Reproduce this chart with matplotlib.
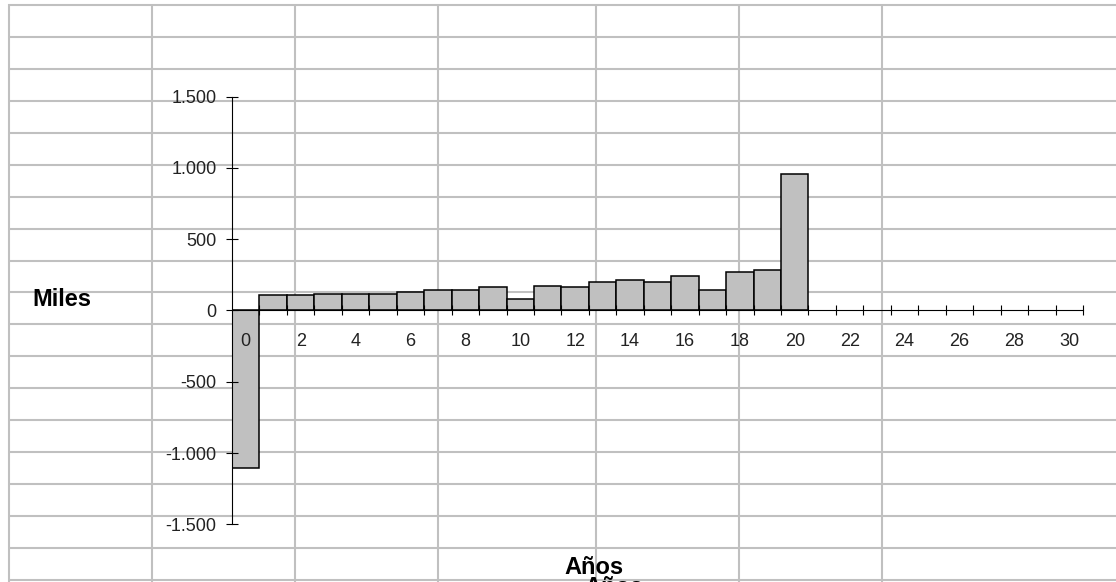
import matplotlib
matplotlib.use("Agg")
import matplotlib.pyplot as plt
import numpy as np

# Flujo de caja anual (miles)
anios = list(range(31))
flujo_miles = [-1105, 108, 108, 119, 119, 119, 133, 147, 147, 164, 80,
               175, 164, 201, 213, 201, 241, 147, 267, 281, 955]
etiquetas_x = [str(a) for a in range(0, 31, 2)]
valores_y = [-1500, -1000, -500, 0, 500, 1000, 1500]
etiquetas_y = ["-1.500", "-1.000", "-500", "0", "500", "1.000", "1.500"]

plt.rcParams["font.family"] = ["Liberation Sans", "DejaVu Sans"]

W, H = 1116, 582
fig = plt.figure(figsize=(W / 100, H / 100), dpi=100)
fig.patch.set_facecolor("white")

# Worksheet cell grid behind the chart (pixel coordinates)
bg = fig.add_axes([0, 0, 1, 1])
bg.set_xlim(0, W)
bg.set_ylim(H, 0)
bg.axis("off")
grid_color = "#c0c0c0"
col_edges = [9, 152.3, 295.3, 438.3, 595.7, 739, 881.7]
row_top, row_h, n_rows = 5, 31.94, 19
for x in col_edges:
    bg.plot([x, x], [row_top - 1, H], color=grid_color, lw=1.5,
            solid_capstyle="butt")
for k in range(n_rows):
    y = row_top + k * row_h
    bg.plot([col_edges[0] - 1, W], [y, y], color=grid_color, lw=1.5,
            solid_capstyle="butt")

# Chart plot area
x0, x1, ytop, ybot = 232, 1083, 96.7, 524.3
ax = fig.add_axes([x0 / W, 1 - ybot / H, (x1 - x0) / W, (ybot - ytop) / H])
ax.patch.set_alpha(0)

# bars sit beneath the axis so tick labels stay readable on top of them
ax.bar(anios[:len(flujo_miles)], flujo_miles, width=1.0, color="#c0c0c0",
       edgecolor="black", linewidth=1.1, zorder=1)

ax.set_xlim(-0.5, 30.5)
ax.set_ylim(-1500, 1500)

for s in ("top", "right"):
    ax.spines[s].set_visible(False)
ax.spines["bottom"].set_position(("data", 0))
ax.spines["bottom"].set_linewidth(0.8)
ax.spines["left"].set_linewidth(0.8)
ax.spines["bottom"].set_zorder(3)

# category boundary ticks and centred labels
ax.set_xticks(np.arange(0.5, 31, 1))
ax.set_xticklabels([])
ax.set_xticks(range(0, 31, 2), minor=True)
ax.set_xticklabels(etiquetas_x, minor=True)
ax.tick_params(axis="x", which="major", direction="inout", length=6.5,
               width=0.8)
ax.tick_params(axis="x", which="minor", length=0, pad=16,
               labelsize=13, labelcolor="#222222")

ax.set_yticks(valores_y)
ax.set_yticklabels(etiquetas_y)
ax.tick_params(axis="y", direction="inout", length=8.4, width=0.8,
               pad=6.8, labelsize=13, labelcolor="#222222")

# Axis titles
bg.text(32, 306, "Miles", fontsize=17, fontweight="bold", ha="left",
        va="baseline")
bg.text(593.7, 574, "Años", fontsize=17, fontweight="bold", ha="center",
        va="baseline")
bg.text(613.7, 593.5, "Años", fontsize=17, fontweight="bold", ha="center",
        va="baseline")

fig.savefig("out.png", dpi=100, facecolor="white")
